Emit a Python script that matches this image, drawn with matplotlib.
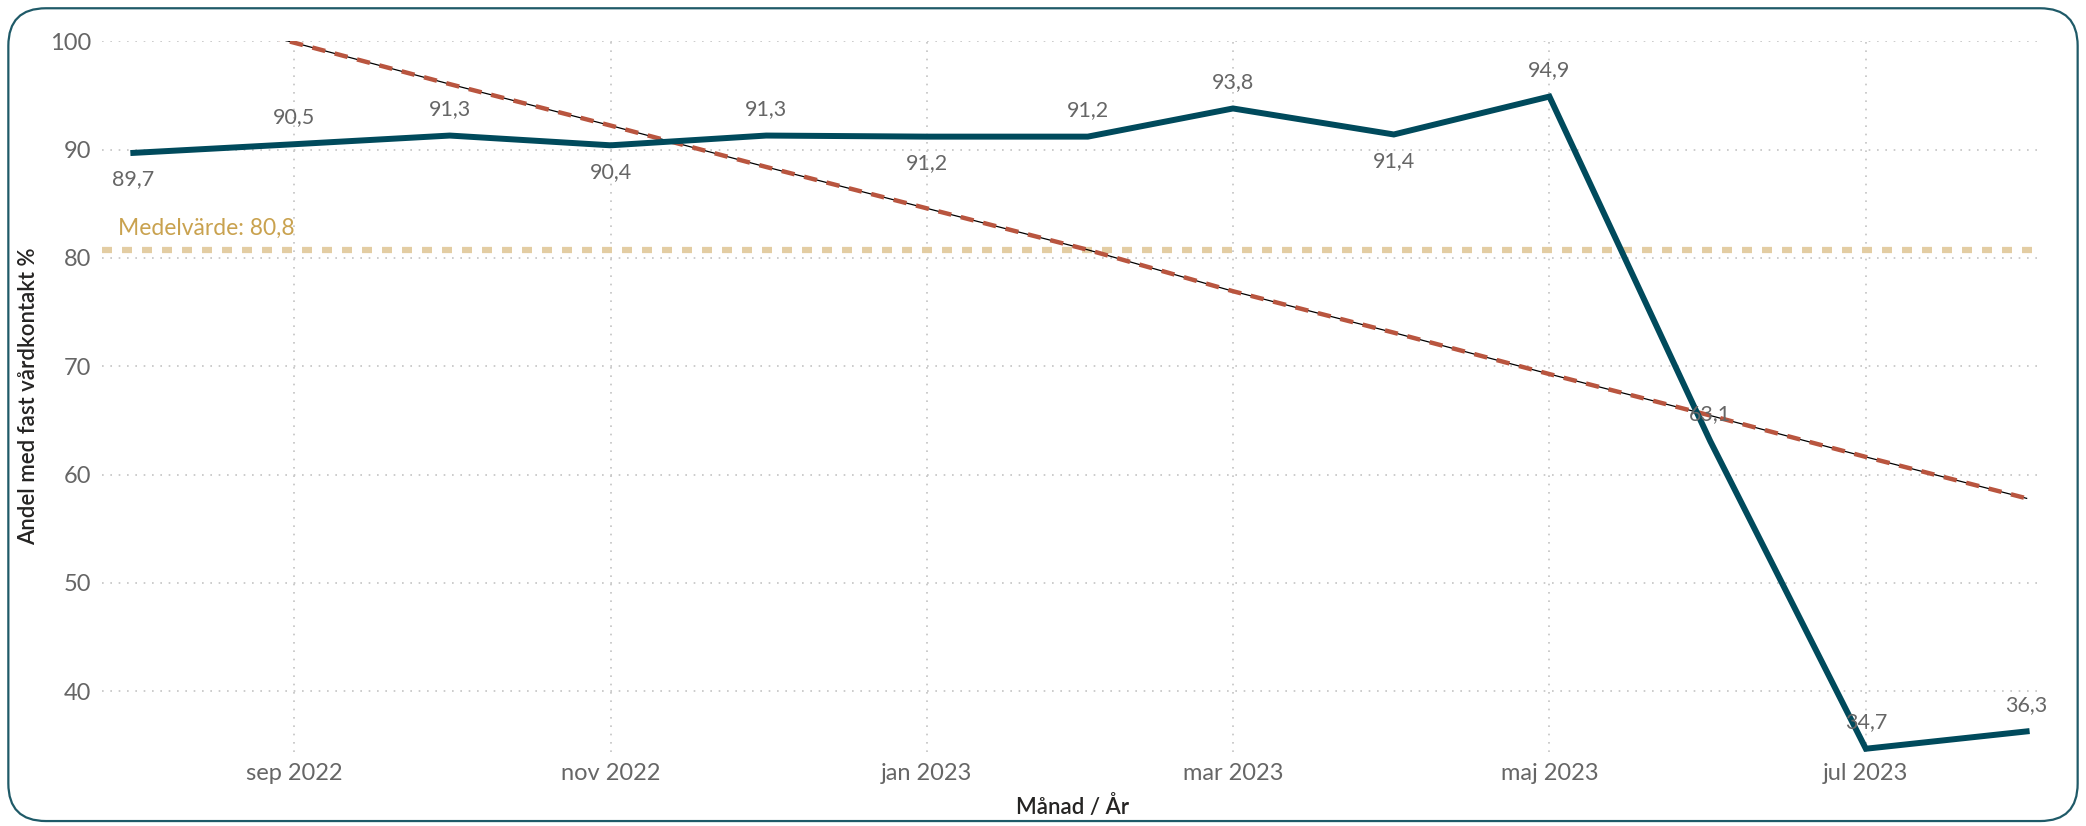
import numpy as np
import pandas as pd
import matplotlib.pyplot as plt
from matplotlib.patches import FancyBboxPatch

# Data
months = pd.date_range("2022-08-01", "2023-08-01", freq="MS")
values = [89.7, 90.5, 91.3, 90.4, 91.3, 91.2, 91.2, 93.8, 91.4, 94.9, 63.1, 34.7, 36.3]
label_pos = ["below", "above", "above", "below", "above", "below", "above",
             "above", "below", "above", "above", "above", "above"]
tick_months = pd.date_range("2022-09-01", "2023-07-01", freq="2MS")
tick_labels = ["sep 2022", "nov 2022", "jan 2023", "mar 2023", "maj 2023", "jul 2023"]

plt.rcParams['font.family'] = ['Lato', 'DejaVu Sans']

fig = plt.figure(figsize=(20.86, 8.26), dpi=100)
ax = fig.add_axes([0.049, 0.0896, 0.93, 0.8604])

# rounded frame
frame = FancyBboxPatch((0.004, 0.006), 0.992, 0.984, boxstyle="round,pad=0,rounding_size=0.018",
                       transform=fig.transFigure, facecolor="none", edgecolor="#1f5a68",
                       linewidth=1.6, mutation_aspect=2086 / 826, zorder=0)
fig.patches.append(frame)

line_color = "#004a5c"
ax.plot(months, values, color=line_color, lw=4.3, zorder=4, solid_joinstyle="miter")

# mean line
mean_val = np.mean(values)
ax.axhline(mean_val, color="#e3cda3", lw=4.5, ls=(0, (1.6, 1.6)), zorder=2)
ax.text(0.008, mean_val + 1.0, f"Medelvärde: {mean_val:.1f}".replace('.', ','),
        transform=ax.get_yaxis_transform(), color="#c9a24f", fontsize=16.5, va="bottom")

# trend line from linear regression
idx = np.arange(len(values))
slope, icpt = np.polyfit(idx, values, 1)
trend = slope * idx + icpt
ax.plot(months, trend, color="black", lw=0.9, zorder=3)
ax.plot(months, trend, color="#b9553f", lw=3.2, ls=(0, (3, 2.2)), zorder=3)

# data labels
for d, v, p in zip(months, values, label_pos):
    txt = f"{v:.1f}".replace('.', ',')
    dy = 12 if p == "above" else -12
    ax.annotate(txt, (d, v), xytext=(0, dy), textcoords="offset points",
                ha="center", va="bottom" if p == "above" else "top",
                fontsize=15.5, color="#666666", zorder=5)

ax.set_ylim(34.4, 100)
ax.set_xlim(pd.Timestamp("2022-07-26"), pd.Timestamp("2023-08-04"))
ax.set_yticks(range(40, 101, 10))
ax.set_xticks(tick_months)
ax.set_xticklabels(tick_labels)

ax.grid(True, color="#c4c4c4", ls=(0, (1, 4)), lw=1.2)
ax.set_axisbelow(True)
for s in ax.spines.values():
    s.set_visible(False)
ax.tick_params(length=0, labelsize=17, labelcolor="#666666", pad=8)
ax.tick_params(axis="y", pad=8)

ax.set_xlabel("Månad / År", fontsize=16, color="#252423", labelpad=8, fontweight="semibold")
ax.set_ylabel("Andel med fast vårdkontakt %", fontsize=16, color="#252423", labelpad=8,
              fontweight="semibold")

fig.savefig("out.png", dpi=100)
